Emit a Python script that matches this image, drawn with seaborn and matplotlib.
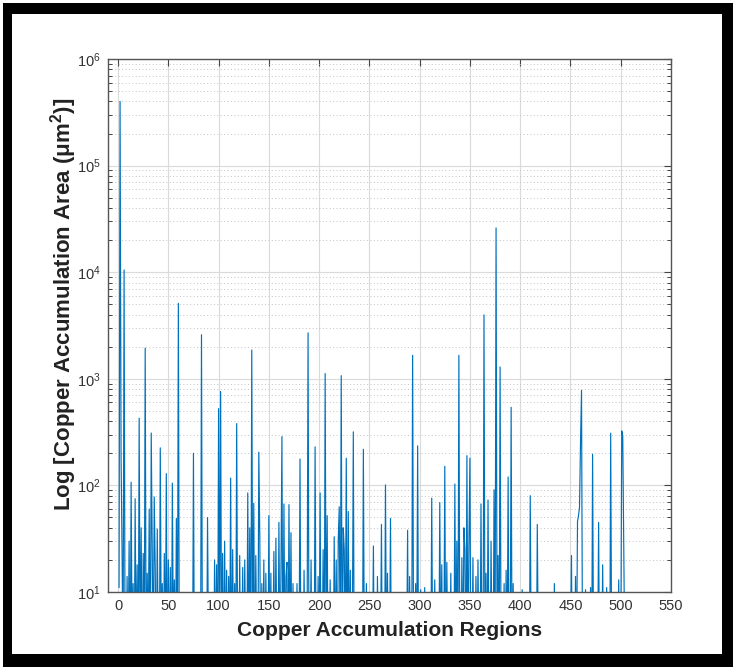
import matplotlib
matplotlib.use("Agg")
import matplotlib.pyplot as plt
from matplotlib.patches import Rectangle
from matplotlib.ticker import LogLocator, NullFormatter
import numpy as np
import pandas as pd
import seaborn as sns

# Copper accumulation area (um^2) for each detected region, regions numbered 1..505
area_um2 = [
    11, 400000, 185, 23, 2, 10500, 2, 1, 14, 2, 30, 1, 107, 3, 12, 1, 75, 2, 18, 1,
    427, 2, 40, 1, 23, 2, 1940, 1, 15, 3, 60, 1, 310, 22, 2, 78, 16, 1, 39, 2,
    1, 225, 3, 12, 1, 23, 2, 129, 1, 20, 2, 17, 1, 105, 3, 13, 1, 49, 2, 5100,
    1, 2, 1, 3, 1, 2, 1, 4, 1, 2, 3, 1, 2, 1, 200, 1, 2, 1, 3, 1,
    2, 1, 2590, 1, 3, 1, 2, 1, 50, 2, 1, 3, 1, 2, 1, 20, 2, 18, 1, 525,
    3, 760, 2, 23, 1, 30, 2, 16, 1, 14, 2, 117, 1, 25, 2, 12, 1, 380, 2, 1,
    22, 1, 3, 17, 1, 20, 2, 1, 85, 2, 40, 1, 1860, 3, 68, 1, 22, 2, 1, 205,
    32, 1, 12, 2, 20, 1, 15, 2, 1, 52, 2, 15, 1, 3, 24, 1, 32, 2, 1, 45,
    2, 14, 287, 1, 67, 2, 14, 19, 1, 66, 2, 36, 1, 12, 2, 1, 3, 12, 1, 2,
    177, 1, 2, 1, 16, 2, 1, 3, 2700, 1, 2, 20, 1, 3, 1, 230, 2, 1, 14, 2,
    85, 1, 2, 25, 1, 1120, 2, 52, 1, 3, 13, 1, 2, 1, 33, 2, 20, 1, 30, 63,
    2, 1070, 1, 40, 25, 2, 180, 1, 57, 2, 16, 1, 3, 318, 1, 2, 1, 3, 1, 2,
    1, 2, 1, 218, 2, 1, 12, 1, 3, 1, 2, 1, 2, 27, 1, 3, 1, 14, 2, 1,
    2, 43, 1, 3, 1, 101, 2, 15, 1, 2, 49, 1, 2, 1, 3, 1, 2, 1, 4, 1,
    2, 1, 3, 1, 2, 1, 2, 38, 1, 14, 2, 1, 1660, 2, 1, 12, 2, 235, 1, 2,
    10.5, 1, 2, 1, 11, 2, 1, 3, 1, 2, 1, 76, 2, 1, 13, 2, 1, 3, 1, 69,
    2, 18, 1, 2, 151, 1, 19, 2, 1, 3, 15, 1, 2, 1, 103, 2, 30, 1, 1660, 2,
    1, 21, 2, 40, 25, 1, 190, 2, 28, 180, 1, 2, 21, 1, 3, 14, 1, 20, 2, 1,
    67, 2, 1, 3980, 2, 15, 1, 73, 2, 1, 30, 2, 1, 91, 2, 26000, 3, 22, 1, 1290,
    2, 1, 3, 12, 1, 16, 2, 120, 1, 2, 540, 1, 12, 2, 1, 3, 1, 2, 1, 2,
    1, 10.5, 1, 2, 1, 3, 1, 2, 1, 80, 2, 1, 3, 1, 2, 1, 43, 2, 1, 3,
    1, 2, 1, 3, 1, 2, 1, 2, 1, 3, 1, 2, 1, 12, 1, 2, 1, 3, 1, 2,
    1, 2, 1, 3, 1, 2, 1, 2, 1, 3, 22, 1, 2, 1, 14, 2, 46, 52, 62, 250,
    780, 2, 1, 2, 10.5, 1, 2, 1, 3, 11, 1, 196, 2, 1, 3, 1, 2, 45, 1, 2,
    1, 18, 2, 1, 3, 11, 1, 2, 1, 309, 2, 1, 3, 1, 2, 1, 2, 13, 1, 2,
    325, 290, 24, 2, 1,
]
region_ids = list(range(1, len(area_um2) + 1))

x_ticks = [0, 50, 100, 150, 200, 250, 300, 350, 400, 450, 500, 550]

df = pd.DataFrame({"region": region_ids, "area": area_um2})

sns.set_theme(style="white")
plt.rcParams["font.family"] = ["Liberation Sans", "DejaVu Sans"]
plt.rcParams["mathtext.fontset"] = "custom"
plt.rcParams["mathtext.rm"] = "Liberation Sans"
plt.rcParams["mathtext.it"] = "Liberation Sans:italic"
plt.rcParams["mathtext.bf"] = "Liberation Sans:bold"

W, H = 736, 670
fig = plt.figure(figsize=(W / 100, H / 100), dpi=100)
fig.patch.set_facecolor("white")

# thick black frame around the figure, kept behind the axes
fig.patches.append(Rectangle((3 / W, 3 / H), (733 - 3) / W, (667 - 3) / H,
                             transform=fig.transFigure, facecolor="black",
                             edgecolor="none", zorder=-20))
fig.patches.append(Rectangle((12 / W, (H - 654) / H), (722 - 12) / W, (654 - 14) / H,
                             transform=fig.transFigure, facecolor="white",
                             edgecolor="none", zorder=-10))

ax = fig.add_axes([108 / W, (H - 592) / H, (671 - 108) / W, (592 - 59) / H])
ax.set_facecolor("white")

sns.lineplot(data=df, x="region", y="area", ax=ax, color="#0072BD",
             linewidth=0.85, estimator=None, sort=False)

ax.set_yscale("log")
ax.set_ylim(10, 1e6)
ax.set_xlim(-10, 550)
ax.set_xticks(x_ticks)
ax.set_xticklabels([str(t) for t in x_ticks])
ax.yaxis.set_major_locator(LogLocator(base=10, numticks=10))
ax.yaxis.set_minor_locator(LogLocator(base=10, subs=np.arange(2, 10), numticks=50))
ax.yaxis.set_minor_formatter(NullFormatter())

# grid: solid light major lines, dotted minor lines on the log axis
ax.grid(True, which="major", axis="both", color="#dadada", linewidth=0.8, linestyle="-")
ax.grid(True, which="minor", axis="y", color="#c2c2c2", linewidth=0.7, linestyle=(0, (1, 2.5)))
ax.set_axisbelow(True)

for s in ax.spines.values():
    s.set_visible(True)
    s.set_color("#555555")
    s.set_linewidth(1.0)

ax.tick_params(axis="both", which="major", direction="in", length=5, width=0.8,
               color="#444444", top=True, right=True, labelsize=10.5,
               labelcolor="#333333", pad=5)
ax.tick_params(axis="y", which="minor", direction="in", length=3, width=0.7,
               color="#444444", left=True, right=True)
ax.tick_params(axis="x", which="minor", bottom=False, top=False)

ax.set_xlabel("Copper Accumulation Regions", fontsize=15, fontweight="bold",
              color="#222222", labelpad=6)
ax.set_ylabel("Log [Copper Accumulation Area (μm$^\\mathbf{2}$)]", fontsize=16,
              fontweight="bold", color="#222222", labelpad=8)
ax.yaxis.set_label_coords(-0.052, 0.54)

fig.savefig("out.png", dpi=100)
